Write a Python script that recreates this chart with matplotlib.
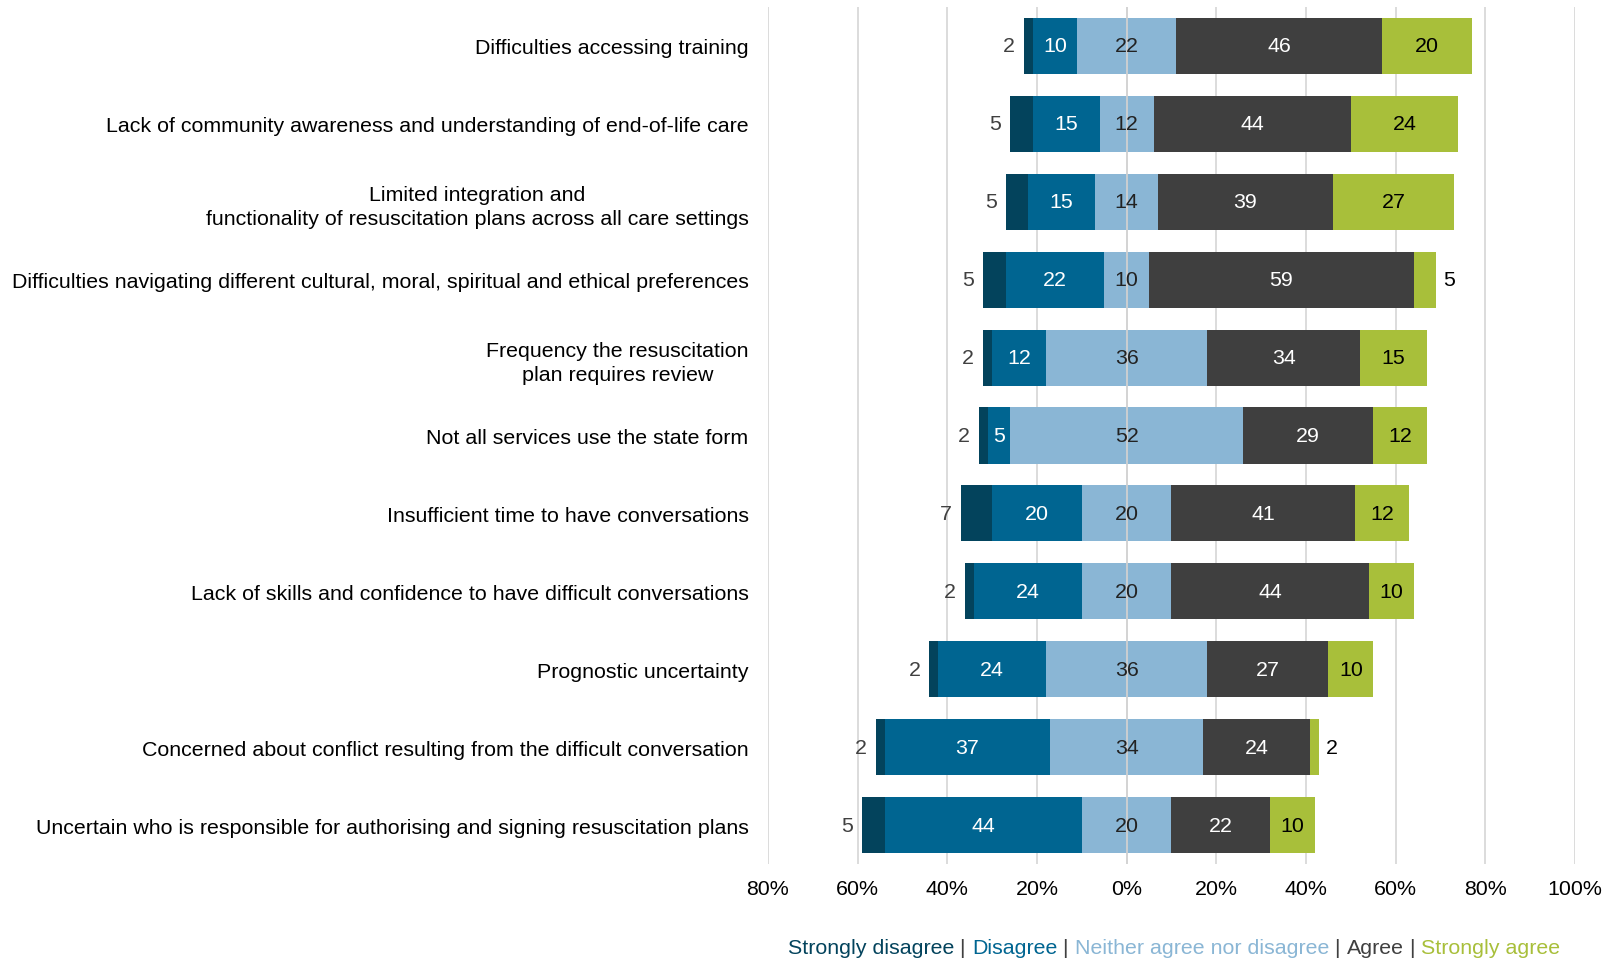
import matplotlib
matplotlib.use("Agg")
import matplotlib.pyplot as plt
import numpy as np

plt.rcParams['font.family'] = ['Liberation Sans', 'DejaVu Sans']

# Barreiras e respostas (%), de cima para baixo
categories = [
    "Difficulties accessing training",
    "Lack of community awareness and understanding of end-of-life care",
    "Limited integration and\nfunctionality of resuscitation plans across all care settings",
    "Difficulties navigating different cultural, moral, spiritual and ethical preferences",
    "Frequency the resuscitation\nplan requires review",
    "Not all services use the state form",
    "Insufficient time to have conversations",
    "Lack of skills and confidence to have difficult conversations",
    "Prognostic uncertainty",
    "Concerned about conflict resulting from the difficult conversation",
    "Uncertain who is responsible for authorising and signing resuscitation plans",
]
strongly_disagree = [2, 5, 5, 5, 2, 2, 7, 2, 2, 2, 5]
disagree = [10, 15, 15, 22, 12, 5, 20, 24, 24, 37, 44]
neutral = [22, 12, 14, 10, 36, 52, 20, 20, 36, 34, 20]
agree = [46, 44, 39, 59, 34, 29, 41, 44, 27, 24, 22]
strongly_agree = [20, 24, 27, 5, 15, 12, 12, 10, 10, 2, 10]

series_names = ["Strongly disagree", "Disagree", "Neither agree nor disagree", "Agree", "Strongly agree"]
colors = ["#03435C", "#006591", "#8AB6D5", "#3F3F3F", "#A8BF3A"]
ticks = [-80, -60, -40, -20, 0, 20, 40, 60, 80, 100]

fig = plt.figure(figsize=(16.08, 9.62), dpi=100)
ax = fig.add_axes([768/1608, 1 - 865/962, (1575 - 768)/1608, (865 - 8)/962])

sd = np.array(strongly_disagree, float)
d = np.array(disagree, float)
n = np.array(neutral, float)
a = np.array(agree, float)
sa = np.array(strongly_agree, float)
y = np.arange(len(categories))
h = 0.72
fs = 15.4

# neutro centrado no zero
left_n = -n / 2
left_d = left_n - d
left_sd = left_d - sd
left_a = n / 2
left_sa = left_a + a

ax.barh(y, sd, left=left_sd, height=h, color=colors[0])
ax.barh(y, d, left=left_d, height=h, color=colors[1])
ax.barh(y, n, left=left_n, height=h, color=colors[2])
ax.barh(y, a, left=left_a, height=h, color=colors[3])
ax.barh(y, sa, left=left_sa, height=h, color=colors[4])

for i in range(len(categories)):
    ax.text(left_sd[i] - 2, y[i], f"{sd[i]:.0f}", ha="right", va="center", fontsize=fs, color="#404040")
    ax.text(left_d[i] + d[i] / 2, y[i], f"{d[i]:.0f}", ha="center", va="center", fontsize=fs, color="white")
    ax.text(0, y[i], f"{n[i]:.0f}", ha="center", va="center", fontsize=fs, color="#222222")
    ax.text(left_a[i] + a[i] / 2, y[i], f"{a[i]:.0f}", ha="center", va="center", fontsize=fs, color="white")
    if sa[i] < 6:
        ax.text(left_sa[i] + sa[i] + 1.5, y[i], f"{sa[i]:.0f}", ha="left", va="center", fontsize=fs, color="black")
    else:
        ax.text(left_sa[i] + sa[i] / 2, y[i], f"{sa[i]:.0f}", ha="center", va="center", fontsize=fs, color="black")

ax.set_xlim(-80, 100)
ax.set_ylim(len(categories) - 0.5, -0.5)
ax.set_xticks(ticks)
ax.set_xticklabels([f"{abs(t)}%" for t in ticks], fontsize=fs)
ax.set_yticks(y)
ax.set_yticklabels(categories, fontsize=fs, multialignment="center", linespacing=1.35)
ax.tick_params(axis="y", length=0, pad=14)
ax.tick_params(axis="x", length=0, pad=11)
for t in ticks:
    if t != 0:
        ax.axvline(t, color="#D9D9D9", lw=1.3, zorder=0)
ax.axvline(0, color="#D0D0D0", lw=1.3, zorder=2)
for s in ax.spines.values():
    s.set_visible(False)

# legenda: nomes das séries coloridos, separados por " | "
parts = []
for k, name in enumerate(series_names):
    parts.append((name, colors[k]))
    if k < len(series_names) - 1:
        parts.append((" | ", "#404040"))

fig.canvas.draw()
renderer = fig.canvas.get_renderer()
x0 = 788 / 1608
for txt, col in parts:
    t = fig.text(x0, 1 - 949/962, txt, color=col, fontsize=fs, va="center", ha="left")
    x0 = t.get_window_extent(renderer).x1 / fig.bbox.width

fig.savefig("out.png", dpi=100)
